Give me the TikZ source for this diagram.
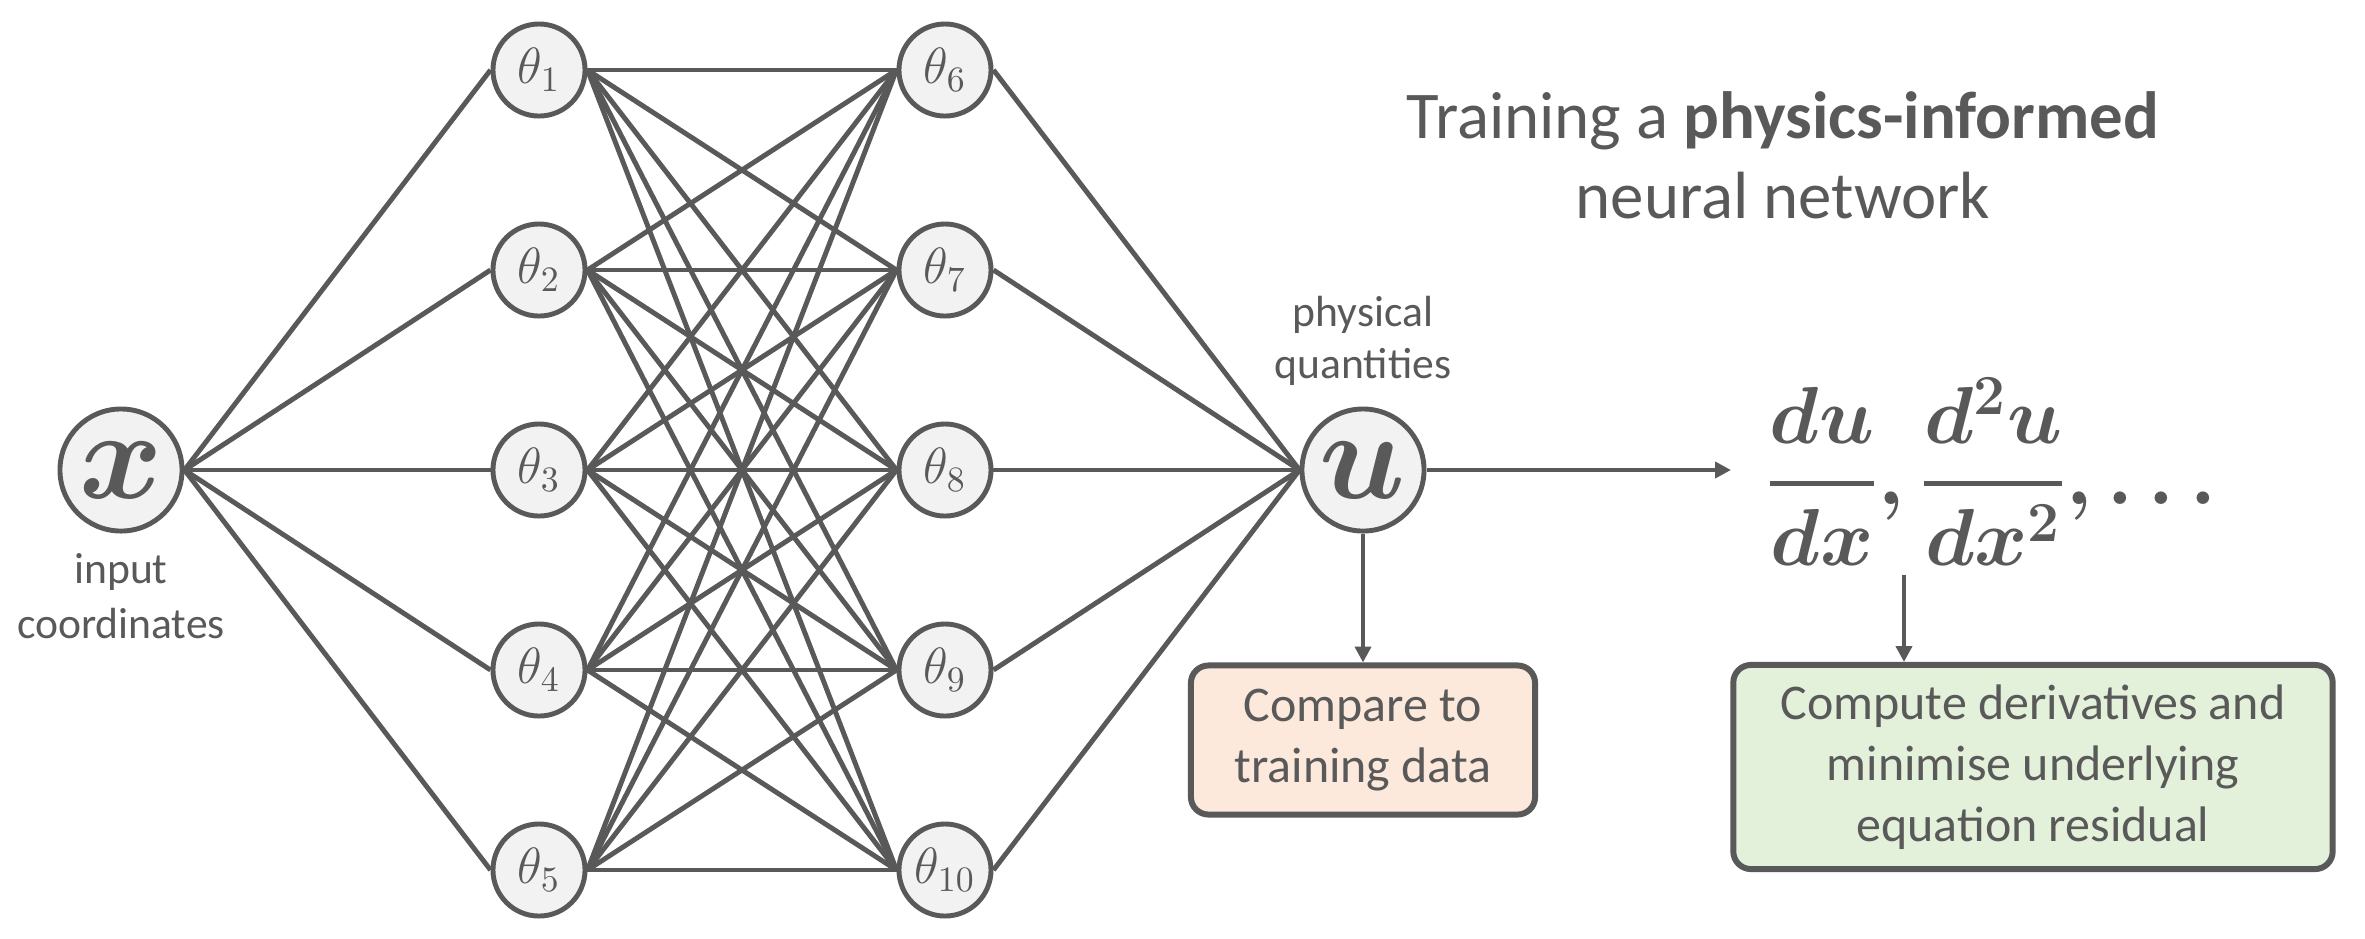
\RequirePackage{fix-cm}
\documentclass[tikz,border=0pt]{standalone}
\usepackage{amsmath}
\usepackage[no-math]{fontspec}
\setmainfont{Carlito}
\usetikzlibrary{arrows.meta,backgrounds}
\definecolor{ink}{HTML}{595959}
\definecolor{nodefill}{HTML}{F2F2F2}
\definecolor{peach}{HTML}{FCE9DC}
\definecolor{mint}{HTML}{E3F0DA}
\begin{document}
\begin{tikzpicture}[x=0.01cm,y=-0.01cm,
  neuron/.style={circle,draw=ink,fill=nodefill,line width=1.4pt,minimum size=0.92cm,inner sep=0pt,text=ink,font=\fontsize{14.5}{16}\selectfont},
  bigneuron/.style={neuron,minimum size=1.22cm,font=\fontsize{36}{40}\selectfont\boldmath},
  edge/.style={draw=ink,line width=1.4pt},
  arr/.style={edge,-{Triangle[length=4.5pt,width=4.5pt]}},
  lbl/.style={text=ink,align=center,inner sep=0pt},
  box/.style={draw=ink,line width=1.7pt,rounded corners=5pt,align=center,text=ink,inner sep=0pt,font=\fontsize{14.2}{17.4}\selectfont}
]
\useasboundingbox (0,0) rectangle (2365,938);
% nodes
\node[bigneuron] (x) at (121,470) {$x$};
\foreach \i/\y in {1/70,2/270,3/470,4/670,5/870}
  \node[neuron] (t\i) at (539,\y) {$\theta_{\i}$};
\foreach \i/\y in {6/70,7/270,8/470,9/670,10/870}
  \node[neuron] (t\i) at (945,\y) {$\theta_{\i}$};
\node[bigneuron] (u) at (1363,470) {$u$};
% labels
\node[lbl,font=\fontsize{12.4}{15.6}\selectfont] (inlbl) at (121,596) {input\\coordinates};
\node[lbl,font=\fontsize{12.4}{14.8}\selectfont] (phys) at (1363,341) {physical\\quantities};
\node[lbl,font=\fontsize{19}{22.8}\selectfont] (title) at (1783,155) {Training a \textbf{physics-informed}\\neural network};
\node[lbl,anchor=base west,font=\fontsize{23}{27}\selectfont\boldmath] (deriv) at (1765,504) {$\displaystyle\genfrac{}{}{1.4pt}{}{du}{dx},\genfrac{}{}{1.4pt}{}{d^2u}{dx^2},\ldots$};
% boxes
\node[box,fill=peach,minimum width=3.44cm,minimum height=1.49cm] (cmp) at (1363,740) {Compare to\\training data};
\node[box,fill=mint,minimum width=5.99cm,minimum height=2.04cm] (res) at (2033,767) {Compute derivatives and\\minimise underlying\\equation residual};
% connectors
\coordinate (dend) at (1731,470);
\coordinate (dstart) at (1904,575);
\begin{pgfonlayer}{background}
  \fill[white] (0,0) rectangle (2365,938);
  \foreach \i in {1,...,5} \draw[edge] (x.east) -- (t\i.west);
  \foreach \i in {1,...,5} \foreach \j in {6,...,10} \draw[edge] (t\i.east) -- (t\j.west);
  \foreach \j in {6,...,10} \draw[edge] (t\j.east) -- (u.west);
\end{pgfonlayer}
\draw[arr] (u.east) -- (dend);
\draw[arr] (u.south) -- (cmp.north);
\draw[arr] (dstart) -- (dstart |- res.north);
\end{tikzpicture}
\end{document}
